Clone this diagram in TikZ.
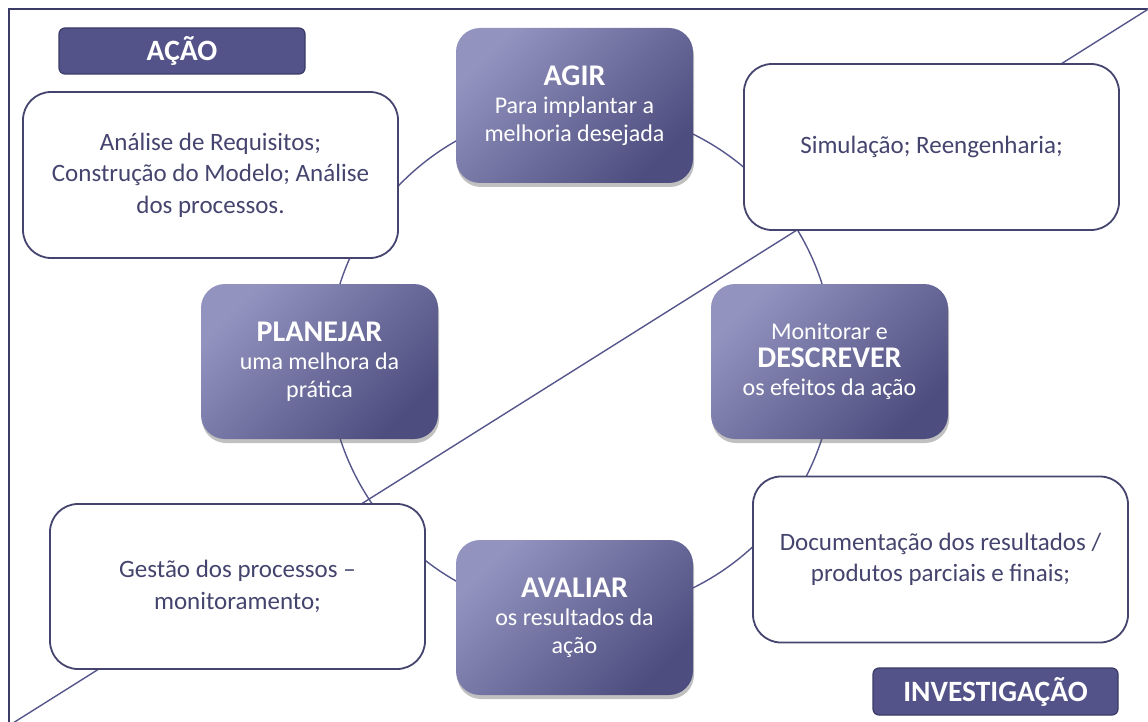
\documentclass[tikz,border=0pt]{standalone}
\usepackage{fontspec}
\setmainfont{Carlito}
\usetikzlibrary{shadows}

\definecolor{frameblue}{HTML}{3B3B68}
\definecolor{ink}{HTML}{44446E}
\definecolor{ringblue}{HTML}{56568C}
\definecolor{gradlight}{HTML}{9393C0}
\definecolor{gradmid}{HTML}{6A6A9C}
\definecolor{graddark}{HTML}{4D4D7F}
\definecolor{tagfill}{HTML}{535389}

% bold heading inside a phase box
\newcommand{\phasehead}[1]{{\bfseries\fontsize{30}{31}\selectfont #1}}

\begin{document}
\begin{tikzpicture}[x=1pt,y=-1pt,
  note/.style={draw=ink, line width=1.8pt, fill=white, rounded corners=28pt,
    minimum width=375pt, minimum height=166pt, inner sep=0pt,
    align=center, text=ink, font=\fontsize{25}{31.5}\selectfont},
  phase/.style={rounded corners=24pt, minimum width=237pt, minimum height=155pt,
    inner sep=0pt, align=center, text=white,
    drop shadow={shadow xshift=1pt, shadow yshift=-4pt, opacity=0.35, fill=black!70},
    top color=gradlight, middle color=gradmid, bottom color=graddark, shading angle=45,
    font=\fontsize{24}{28}\selectfont},
  tag/.style={fill=tagfill, draw=frameblue, line width=1.2pt, rounded corners=6pt,
    minimum height=46pt, inner sep=0pt, text=white,
    font=\bfseries\fontsize{29.5}{31}\selectfont},
  ring/.style={draw=ringblue, line width=1.4pt},
]
\useasboundingbox (0,0) rectangle (1148,722);
\clip (0,0) rectangle (1148,722);
\fill[white] (0,0) rectangle (1148,722);

% outer frame (runs past the right and bottom edges)
\draw[frameblue, line width=2.6pt] (9,760) -- (9,9) -- (1180,9);

% the long diagonal and the cycle ring, both behind the boxes
\coordinate (diagTop) at (1150,8);
\coordinate (diagBot) at (13,723);
\draw[ring] (diagTop) -- (diagBot);
\node[ring, circle, minimum size=506pt, inner sep=0pt] (cycle) at (581,361) {};

% white description boxes
\node[note] (reqs) at (210.5,175) {Análise de Requisitos;\\Construção do Modelo; Análise\\dos processos.};
\node[note] (sim) at (931.5,147) {Simulação; Reengenharia;};
\node[note, minimum height=165pt] (gest) at (237.5,586.5) {Gestão dos processos –\\monitoramento;};
\node[note] (doc) at (940.5,559.5) {Documentação dos resultados /\\produtos parciais e finais;};

% cycle phases
\node[phase] (agir) at (574.5,105.5) {\phasehead{AGIR}\\Para implantar a\\melhoria desejada};
\node[phase] (plan) at (319.5,361.5) {\phasehead{PLANEJAR}\\uma melhora da\\prática};
\node[phase] (desc) at (829.5,361.5) {Monitorar e\\\phasehead{DESCREVER}\\os efeitos da ação};
\node[phase] (aval) at (574.5,617.5) {\phasehead{AVALIAR}\\os resultados da\\ação};

% corner tags
\node[tag, minimum width=246pt] (acao) at (182,51) {AÇÃO};
\node[tag, minimum width=245pt, minimum height=47pt] (inv) at (995.5,691.5) {INVESTIGAÇÃO};
\end{tikzpicture}
\end{document}
